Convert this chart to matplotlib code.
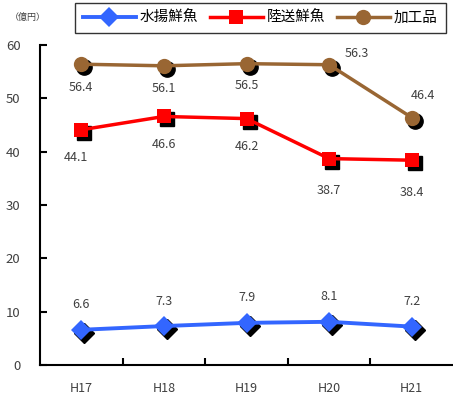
import numpy as np
import matplotlib
matplotlib.use("Agg")
import matplotlib.pyplot as plt
import matplotlib.transforms as mtransforms

plt.rcParams['font.family'] = ['Noto Sans CJK JP', 'DejaVu Sans']

# ---- DATA
years = ["H17", "H18", "H19", "H20", "H21"]
mizuage = [6.6, 7.3, 7.9, 8.1, 7.2]
rikuso = [44.1, 46.6, 46.2, 38.7, 38.4]
kakou = [56.4, 56.1, 56.5, 56.3, 46.4]
names = ["水揚鮮魚", "陸送鮮魚", "加工品"]

# label offsets in points (dx, dy)
off_kakou = [(0, -17), (0, -16), (0, -16), (20, 8), (8, 16)]
off_rikuso = [(-4, -20), (0, -20), (0, -20), (0, -23), (0, -23)]
off_mizu = [(0, 18), (0, 18), (0, 18), (0, 18), (0, 18)]

fig = plt.figure(figsize=(4.53, 4.03), dpi=100)
ax = fig.add_axes([40/453, 38/403, 413/453, 320/403])

x = np.arange(len(years))
shadow = mtransforms.offset_copy(ax.transData, fig=fig, x=3, y=-3, units='dots')

series = [(mizuage, "#3366FF", "D", 10.5, 2.8, off_mizu),
          (rikuso, "#FF0000", "s", 10.5, 2.5, off_rikuso),
          (kakou, "#996633", "o", 11, 2.5, off_kakou)]

handles = []
for (vals, col, mk, ms, lw, offs), nm in zip(series, names):
    ax.plot(x, vals, linestyle='none', marker=mk, markersize=ms, color='black',
            transform=shadow, zorder=2)
    h, = ax.plot(x, vals, color=col, lw=lw, marker=mk, markersize=ms,
                 markeredgewidth=0, zorder=3, label=nm)
    handles.append(h)
    for xi, v, (dx, dy) in zip(x, vals, offs):
        ax.annotate(f"{v:.1f}", (xi, v), xytext=(dx, dy), textcoords='offset points',
                    ha='center', va='center', fontsize=9, color='#404040')

ax.set_xlim(-0.5, 4.5)
ax.set_ylim(0, 60)
ax.set_yticks(range(0, 61, 10))
ax.set_xticks(x)
ax.set_xticklabels(years)
ax.set_xticks(np.arange(0.5, 4.5, 1), minor=True)
ax.tick_params(axis='x', which='major', length=0, pad=12, labelsize=9, labelcolor='#404040')
ax.tick_params(axis='x', which='minor', direction='in', length=5, width=1.5)
ax.tick_params(axis='y', direction='in', length=5, width=1.5, pad=14,
               labelsize=9.5, labelcolor='#404040')
ax.spines['top'].set_visible(False)
ax.spines['right'].set_visible(False)
ax.spines['left'].set_linewidth(1.5)
ax.spines['bottom'].set_linewidth(1.5)

leg = fig.legend(handles=handles, loc='upper left', bbox_to_anchor=(75/453, 1 - 3/403),
                 ncol=3, frameon=True, fancybox=False, edgecolor='black',
                 fontsize=10.5, handlelength=3.6, columnspacing=0.8, handletextpad=0.3,
                 borderpad=0.55, borderaxespad=0)
leg.get_frame().set_linewidth(1.0)
fig.text(28/453, 1 - 17/403, "（億円）", fontsize=6.5, ha='center', va='center', color='#404040')

fig.savefig("out.png", dpi=100)
